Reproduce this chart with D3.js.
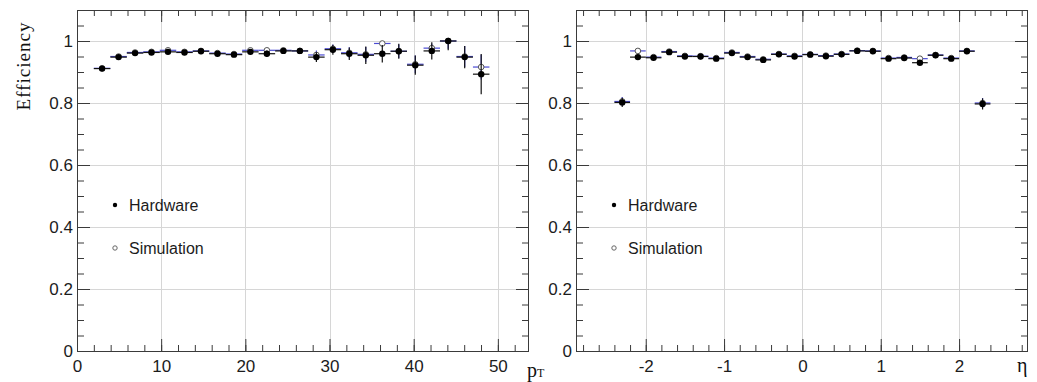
<!DOCTYPE html>
<html>
<head>
<meta charset="utf-8">
<script src="https://cdn.jsdelivr.net/npm/d3@7"></script>
<style>
  html, body { margin: 0; padding: 0; background: #fff; }
  svg { display: block; }
</style>
</head>
<body>
<svg id="chart" width="1037" height="382"></svg>
<script>
// ---- pT panel data ----
const ptCenters = [2.98, 4.94, 6.90, 8.85, 10.81, 12.77, 14.73, 16.69, 18.65, 20.60, 22.56, 24.52,
                   26.48, 28.44, 30.40, 32.35, 34.31, 36.27, 38.23, 40.19, 42.15, 44.10, 46.06, 48.02];
const ptHalfWidth = 0.98;
const ptHardware = [0.911, 0.948, 0.961, 0.963, 0.965, 0.963, 0.967, 0.959, 0.956, 0.965, 0.959, 0.968,
                    0.968, 0.948, 0.972, 0.959, 0.954, 0.959, 0.967, 0.922, 0.968, 1.000, 0.948, 0.893];
const ptHardwareErr = [0.004, 0.004, 0.004, 0.004, 0.005, 0.005, 0.005, 0.006, 0.007, 0.008, 0.010, 0.008,
                       0.009, 0.016, 0.016, 0.020, 0.028, 0.028, 0.024, 0.031, 0.028, 0.030, 0.036, 0.065];
const ptSimulation = [0.912, 0.950, 0.963, 0.965, 0.970, 0.965, 0.968, 0.961, 0.958, 0.970, 0.970, 0.970,
                      0.968, 0.955, 0.975, 0.962, 0.957, 0.992, 0.967, 0.925, 0.977, 1.000, 0.950, 0.916];
const ptSimulationErr = [0.003, 0.003, 0.003, 0.004, 0.004, 0.004, 0.005, 0.005, 0.006, 0.007, 0.008, 0.008,
                         0.008, 0.014, 0.014, 0.018, 0.024, 0.010, 0.022, 0.028, 0.014, 0.025, 0.034, 0.040];

// ---- eta panel data ----
const etaCenters = [-2.3, -2.1, -1.9, -1.7, -1.5, -1.3, -1.1, -0.9, -0.7, -0.5, -0.3, -0.1,
                    0.1, 0.3, 0.5, 0.7, 0.9, 1.1, 1.3, 1.5, 1.7, 1.9, 2.1, 2.3];
const etaHalfWidth = 0.1;
const etaHardware = [0.802, 0.948, 0.946, 0.964, 0.950, 0.950, 0.943, 0.961, 0.948, 0.939, 0.957, 0.950,
                     0.956, 0.951, 0.957, 0.968, 0.967, 0.943, 0.945, 0.930, 0.954, 0.943, 0.967, 0.797];
const etaHardwareErr = [0.015, 0.005, 0.004, 0.004, 0.004, 0.004, 0.004, 0.004, 0.004, 0.004, 0.004, 0.004,
                        0.004, 0.004, 0.004, 0.004, 0.004, 0.004, 0.004, 0.005, 0.004, 0.004, 0.005, 0.018];
const etaSimulation = [0.805, 0.968, 0.948, 0.966, 0.952, 0.951, 0.945, 0.963, 0.950, 0.941, 0.958, 0.952,
                       0.957, 0.953, 0.958, 0.969, 0.968, 0.945, 0.947, 0.943, 0.955, 0.945, 0.968, 0.800];
const etaSimulationErr = [0.014, 0.004, 0.004, 0.004, 0.004, 0.004, 0.004, 0.004, 0.004, 0.004, 0.004, 0.004,
                          0.004, 0.004, 0.004, 0.004, 0.004, 0.004, 0.004, 0.004, 0.004, 0.004, 0.004, 0.016];

// ---- axis labels ----
const yTickLabels = [0, 0.2, 0.4, 0.6, 0.8, 1];
const ptTickLabels = [0, 10, 20, 30, 40, 50];
const etaTickLabels = [-2, -1, 0, 1, 2];
const legendLabels = ["Hardware", "Simulation"];

const svg = d3.select("#chart");
const TOP = 10, BOTTOM = 351;
const SANS = "'Liberation Sans', Arial, Helvetica, sans-serif";
const SERIF = "'Liberation Serif', 'Times New Roman', serif";
const AXIS_COLOR = "#3a3a3a";
const GRID_COLOR = "#d6d6d6";
const SIM_BAR = "#4b4bd2";

function drawPanel(cfg) {
  const x = d3.scaleLinear().domain(cfg.xDomain).range([cfg.left, cfg.right]);
  const y = d3.scaleLinear().domain([0, 1.1]).range([BOTTOM, TOP]);
  const g = svg.append("g");

  // grid at major ticks
  const grid = g.append("g").attr("stroke", GRID_COLOR).attr("stroke-width", 1);
  grid.selectAll(".gx").data(cfg.xMajor.filter(v => x(v) > cfg.left + 1 && x(v) < cfg.right - 1))
    .join("line").attr("class", "gx")
    .attr("x1", d => Math.round(x(d)) + 0.5).attr("x2", d => Math.round(x(d)) + 0.5)
    .attr("y1", TOP).attr("y2", BOTTOM);
  grid.selectAll(".gy").data(yTickLabels.filter(v => v > 0))
    .join("line").attr("class", "gy")
    .attr("x1", cfg.left).attr("x2", cfg.right)
    .attr("y1", d => Math.round(y(d)) + 0.5).attr("y2", d => Math.round(y(d)) + 0.5);

  const yMinor = d3.range(0, 1.1001, 0.05).map(v => +v.toFixed(2));
  const styleAxis = sel => {
    sel.select(".domain").remove();
    sel.attr("color", AXIS_COLOR).attr("font-family", SANS).attr("font-size", 17);
    sel.selectAll("text").attr("fill", "#1c1c1c");
  };

  // bottom axis: minor ticks, then major ticks with labels
  g.append("g").attr("transform", `translate(0,${BOTTOM})`)
    .call(d3.axisBottom(x).tickValues(cfg.xMinor).tickSize(-6).tickFormat(""))
    .call(styleAxis);
  g.append("g").attr("transform", `translate(0,${BOTTOM})`)
    .call(d3.axisBottom(x).tickValues(cfg.xMajor).tickSize(-12).tickPadding(9).tickFormat(d => String(d)))
    .call(styleAxis);
  // top axis ticks
  g.append("g").attr("transform", `translate(0,${TOP})`)
    .call(d3.axisTop(x).tickValues(cfg.xMinor).tickSize(-6).tickFormat(""))
    .call(styleAxis);
  g.append("g").attr("transform", `translate(0,${TOP})`)
    .call(d3.axisTop(x).tickValues(cfg.xMajor).tickSize(-12).tickFormat(""))
    .call(styleAxis);
  // left axis
  g.append("g").attr("transform", `translate(${cfg.left},0)`)
    .call(d3.axisLeft(y).tickValues(yMinor).tickSize(-7).tickFormat(""))
    .call(styleAxis);
  g.append("g").attr("transform", `translate(${cfg.left},0)`)
    .call(d3.axisLeft(y).tickValues(yTickLabels).tickSize(-13).tickPadding(4).tickFormat(d => String(d)))
    .call(styleAxis);
  // right axis ticks
  g.append("g").attr("transform", `translate(${cfg.right},0)`)
    .call(d3.axisRight(y).tickValues(yMinor).tickSize(-7).tickFormat(""))
    .call(styleAxis);
  g.append("g").attr("transform", `translate(${cfg.right},0)`)
    .call(d3.axisRight(y).tickValues(yTickLabels).tickSize(-13).tickFormat(""))
    .call(styleAxis);

  // frame
  g.append("rect")
    .attr("x", cfg.left + 0.5).attr("y", TOP + 0.5)
    .attr("width", cfg.right - cfg.left - 1).attr("height", BOTTOM - TOP)
    .attr("fill", "none").attr("stroke", AXIS_COLOR).attr("stroke-width", 1);

  const series = (centers, vals, errs) => centers.map((c, i) => ({
    c, v: vals[i], lo: Math.max(0, vals[i] - errs[i]), hi: Math.min(1, vals[i] + errs[i])
  }));

  const drawBars = (data, color) => {
    const bg = g.append("g").attr("stroke", color).attr("stroke-width", 1.2);
    bg.selectAll(".h").data(data).join("line").attr("class", "h")
      .attr("x1", d => x(d.c - cfg.halfWidth)).attr("x2", d => x(d.c + cfg.halfWidth))
      .attr("y1", d => y(d.v)).attr("y2", d => y(d.v));
    bg.selectAll(".v").data(data).join("line").attr("class", "v")
      .attr("x1", d => x(d.c)).attr("x2", d => x(d.c))
      .attr("y1", d => y(d.lo)).attr("y2", d => y(d.hi));
  };

  const sim = series(cfg.centers, cfg.sim, cfg.simErr);
  const hw = series(cfg.centers, cfg.hw, cfg.hwErr);

  drawBars(sim, SIM_BAR);
  g.append("g").selectAll("circle").data(sim).join("circle")
    .attr("cx", d => x(d.c)).attr("cy", d => y(d.v)).attr("r", 2.8)
    .attr("fill", "#fff").attr("stroke", "#555").attr("stroke-width", 1);

  drawBars(hw, "#111");
  g.append("g").selectAll("circle").data(hw).join("circle")
    .attr("cx", d => x(d.c)).attr("cy", d => y(d.v)).attr("r", 3.2)
    .attr("fill", "#000");

  // legend
  const lg = g.append("g").attr("font-family", SANS).attr("font-size", 16).attr("fill", "#1c1c1c");
  const ly = [205, 248];
  lg.append("circle").attr("cx", cfg.left + 38).attr("cy", ly[0]).attr("r", 2.2).attr("fill", "#000");
  lg.append("circle").attr("cx", cfg.left + 38).attr("cy", ly[1]).attr("r", 2.2)
    .attr("fill", "#fff").attr("stroke", "#666").attr("stroke-width", 1);
  lg.selectAll("text").data(legendLabels).join("text")
    .attr("x", cfg.left + 52).attr("y", (d, i) => ly[i]).attr("dy", "0.35em").text(d => d);

  return { x, y };
}

drawPanel({
  left: 77, right: 529, xDomain: [0, 53.7],
  xMajor: ptTickLabels, xMinor: d3.range(0, 53, 2),
  centers: ptCenters, halfWidth: ptHalfWidth,
  hw: ptHardware, hwErr: ptHardwareErr, sim: ptSimulation, simErr: ptSimulationErr
});

drawPanel({
  left: 576, right: 1028, xDomain: [-2.89, 2.88],
  xMajor: etaTickLabels, xMinor: d3.range(-2.8, 2.81, 0.2).map(v => +v.toFixed(1)),
  centers: etaCenters, halfWidth: etaHalfWidth,
  hw: etaHardware, hwErr: etaHardwareErr, sim: etaSimulation, simErr: etaSimulationErr
});

// axis titles
svg.append("text")
  .attr("transform", "translate(30,66) rotate(-90)")
  .attr("text-anchor", "middle")
  .attr("font-family", SERIF).attr("font-size", 19).attr("letter-spacing", 1)
  .attr("fill", "#111").text("Efficiency");

const ptTitle = svg.append("text").attr("x", 527).attr("y", 377)
  .attr("font-family", SERIF).attr("fill", "#111");
ptTitle.append("tspan").attr("font-size", 20).text("p");
ptTitle.append("tspan").attr("font-size", 12).text("T");

svg.append("text").attr("x", 1017).attr("y", 372)
  .attr("font-family", SERIF).attr("font-size", 20).attr("fill", "#111").text("η");
</script>
</body>
</html>
